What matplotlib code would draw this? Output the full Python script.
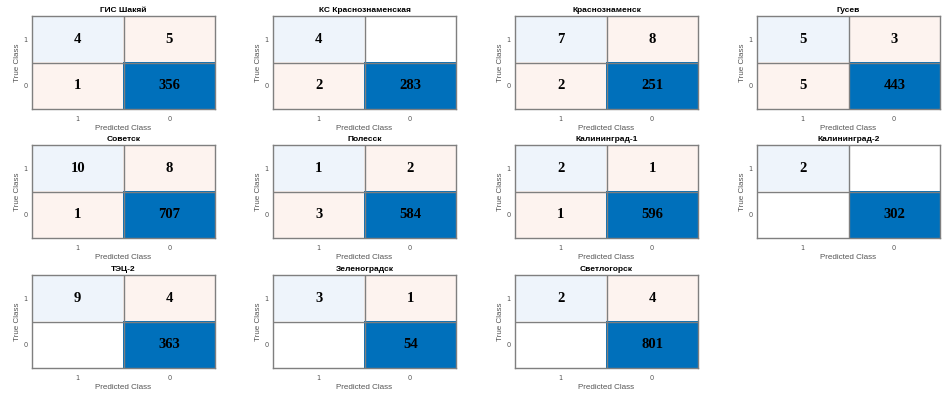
import numpy as np
import matplotlib.pyplot as plt
from matplotlib.colors import ListedColormap

# confusion matrices: rows = true class (1, 0), cols = predicted class (1, 0)
titles = [
    "ГИС Шакяй", "КС Краснознаменская", "Краснознаменск", "Гусев",
    "Советск", "Полесск", "Калининград-1", "Калининград-2",
    "ТЭЦ-2", "Зеленоградск", "Светлогорск",
]
tp = [4, 4, 7, 5, 10, 1, 2, 2, 9, 3, 2]
fn = [5, 0, 8, 3, 8, 2, 1, 0, 4, 1, 4]
fp = [1, 2, 2, 5, 1, 3, 1, 0, 0, 0, 0]
tn = [356, 283, 251, 443, 707, 584, 596, 302, 363, 54, 801]
class_labels = ["1", "0"]

# 0 empty, 1 light diagonal, 2 dark diagonal, 3 off-diagonal
cmap = ListedColormap(["#ffffff", "#eef4fb", "#0070bb", "#fdf3ef"])

fig = plt.figure(figsize=(9.51, 3.96), dpi=100)
W, H = 951, 396
col_left = [32, 273, 515, 757]
row_top = [16, 145, 275]
aw, ah = 183, 93

for i, name in enumerate(titles):
    r, c = divmod(i, 4)
    ax = fig.add_axes([col_left[c] / W, 1 - (row_top[r] + ah) / H, aw / W, ah / H])
    m = np.array([[tp[i], fn[i]], [fp[i], tn[i]]])
    codes = np.zeros((2, 2), dtype=int)
    for a in range(2):
        for b in range(2):
            if m[a, b] == 0:
                codes[a, b] = 0
            elif a == b:
                codes[a, b] = 2 if m[a, b] == m.max() else 1
            else:
                codes[a, b] = 3
    ax.imshow(codes, cmap=cmap, vmin=-0.5, vmax=3.5, aspect="auto",
              interpolation="nearest")
    for a in range(2):
        for b in range(2):
            if m[a, b] != 0:
                ax.text(b, a, str(m[a, b]), ha="center", va="center",
                        fontsize=10.5, fontweight="bold", family="Liberation Serif",
                        color="black")
    ax.axhline(0.5, color="#7f7f7f", lw=1)
    ax.axvline(0.5, color="#7f7f7f", lw=1)
    for s in ax.spines.values():
        s.set_color("#7f7f7f")
        s.set_linewidth(1)
    ax.set_xticks([0, 1])
    ax.set_xticklabels(class_labels)
    ax.set_yticks([0, 1])
    ax.set_yticklabels(class_labels)
    ax.tick_params(axis="x", length=0, labelsize=4.8, labelcolor="#555555", pad=5)
    ax.tick_params(axis="y", length=0, labelsize=4.8, labelcolor="#555555", pad=3)
    ax.set_xlabel("Predicted Class", fontsize=5.8, color="#555555",
                  family="Liberation Sans", labelpad=2)
    ax.set_ylabel("True Class", fontsize=5.8, color="#555555",
                  family="Liberation Sans", labelpad=2)
    ax.set_title(name, fontsize=6, fontweight="bold", family="Liberation Sans",
                 pad=3)

fig.savefig("out.png", dpi=100)
